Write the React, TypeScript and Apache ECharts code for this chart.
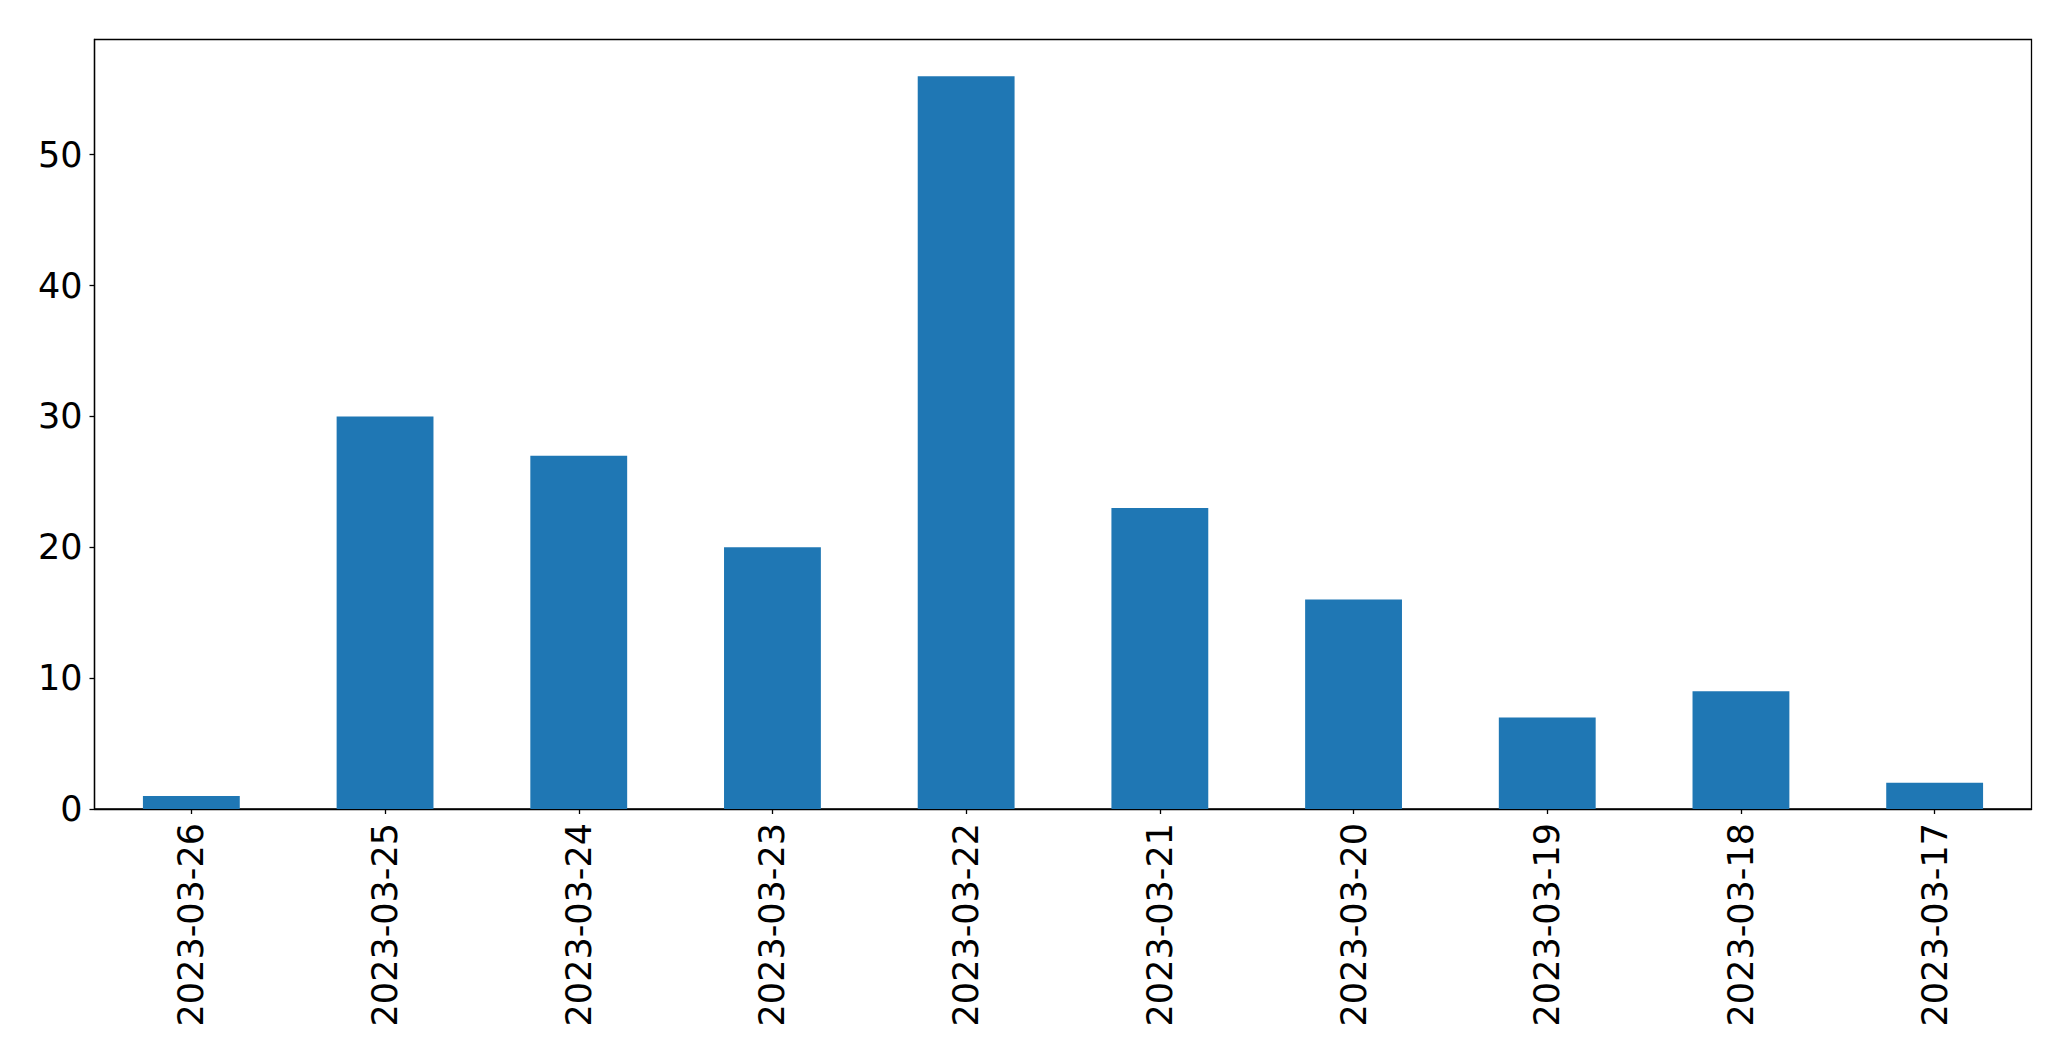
import React, { useEffect, useRef } from "react";
import * as echarts from "echarts";

const categories = [
  "2023-03-26",
  "2023-03-25",
  "2023-03-24",
  "2023-03-23",
  "2023-03-22",
  "2023-03-21",
  "2023-03-20",
  "2023-03-19",
  "2023-03-18",
  "2023-03-17",
];
const counts = [1, 30, 27, 20, 56, 23, 16, 7, 9, 2];
const yTicks = [0, 10, 20, 30, 40, 50];

export default function App() {
  const ref = useRef<HTMLDivElement>(null);
  useEffect(() => {
    document.body.style.margin = "0";
    const chart = echarts.init(ref.current!, null, { renderer: "svg" });
    const font = "DejaVu Sans";
    chart.setOption({
      animation: false,
      backgroundColor: "#ffffff",
      grid: {
        left: 94.5,
        right: 39.5,
        top: 39.5,
        bottom: 252,
        containLabel: false,
        show: true,
        borderColor: "#000000",
        borderWidth: 1.3,
        backgroundColor: "transparent",
      },
      xAxis: {
        type: "category",
        data: categories,
        boundaryGap: true,
        axisLine: { show: true, lineStyle: { color: "#000", width: 1.3 } },
        axisTick: {
          show: true,
          alignWithLabel: true,
          length: 5,
          lineStyle: { color: "#000", width: 1.3 },
        },
        axisLabel: {
          rotate: 90,
          fontFamily: font,
          fontSize: 35,
          color: "#000",
          margin: 14,
          interval: 0,
        },
      },
      yAxis: {
        type: "value",
        min: 0,
        max: 58.8,
        interval: 10,
        splitLine: { show: false },
        axisLine: { show: true, lineStyle: { color: "#000", width: 1.3 } },
        axisTick: {
          show: true,
          length: 5,
          customValues: yTicks,
          lineStyle: { color: "#000", width: 1.3 },
        },
        axisLabel: {
          fontFamily: font,
          fontSize: 35,
          color: "#000",
          margin: 12,
          customValues: yTicks,
        },
      },
      series: [
        {
          type: "bar",
          data: counts,
          barWidth: "50%",
          itemStyle: { color: "#1f77b4" },
        },
      ],
    });
    return () => chart.dispose();
  }, []);
  return (
    <div
      ref={ref}
      style={{ position: "absolute", left: 0, top: 0, width: 2071, height: 1061 }}
    />
  );
}
